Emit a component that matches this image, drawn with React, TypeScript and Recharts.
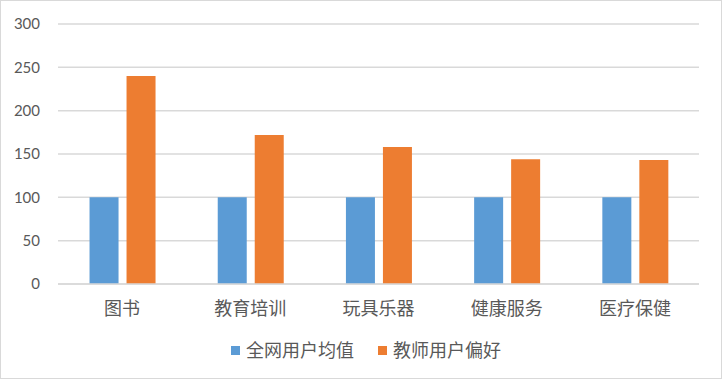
import { BarChart, Bar, XAxis, YAxis, CartesianGrid, Legend } from 'recharts';

const categories = ['图书', '教育培训', '玩具乐器', '健康服务', '医疗保健'];
const allUsers = [100, 100, 100, 100, 100];
const teachers = [240, 172, 158, 144, 143];
const yTicks = [0, 50, 100, 150, 200, 250, 300];

const seriesNames = ['全网用户均值', '教师用户偏好'];
const colors = ['#5B9BD5', '#ED7D31'];

const data = categories.map((name, i) => ({
  name,
  all: allUsers[i],
  teacher: teachers[i],
}));

const font = "Lato, 'Noto Sans CJK SC', sans-serif";

function LegendContent() {
  return (
    <div style={{ display: 'flex', justifyContent: 'flex-start', paddingLeft: 230, gap: 24, fontFamily: font, fontSize: 18, color: '#595959', lineHeight: '24px' }}>
      {seriesNames.map((n, i) => (
        <div key={n} style={{ display: 'flex', alignItems: 'center' }}>
          <span style={{ width: 9, height: 9, background: colors[i], marginRight: 6, display: 'inline-block' }} />
          <span>{n}</span>
        </div>
      ))}
    </div>
  );
}

export default function App() {
  return (
    <div style={{ position: 'absolute', left: 0, top: 0, width: 722, height: 379, boxSizing: 'border-box', border: '1px solid #d9d9d9', background: '#fff' }}>
      <style>{`body{margin:0}`}</style>
      <BarChart
        width={720}
        height={377}
        data={data}
        margin={{ top: 23, right: 22, left: 0, bottom: 0 }}
        barGap={8}
        barCategoryGap="24.6%"
      >
        <CartesianGrid vertical={false} stroke="#d9d9d9" strokeWidth={1.5} />
        <XAxis
          dataKey="name"
          axisLine={{ stroke: '#d9d9d9', strokeWidth: 1.5 }}
          tickLine={false}
          tickMargin={12}
          height={70}
          tick={{ fill: '#595959', fontSize: 18, fontFamily: font }}
        />
        <YAxis
          width={57}
          domain={[0, 300]}
          ticks={yTicks}
          axisLine={false}
          tickLine={false}
          tickMargin={12}
          tick={{ fill: '#595959', fontSize: 15, fontFamily: font }}
        />
        <Legend verticalAlign="bottom" content={<LegendContent />} wrapperStyle={{ bottom: 16 }} />
        <Bar dataKey="all" name={seriesNames[0]} fill={colors[0]} isAnimationActive={false} />
        <Bar dataKey="teacher" name={seriesNames[1]} fill={colors[1]} isAnimationActive={false} />
      </BarChart>
    </div>
  );
}
